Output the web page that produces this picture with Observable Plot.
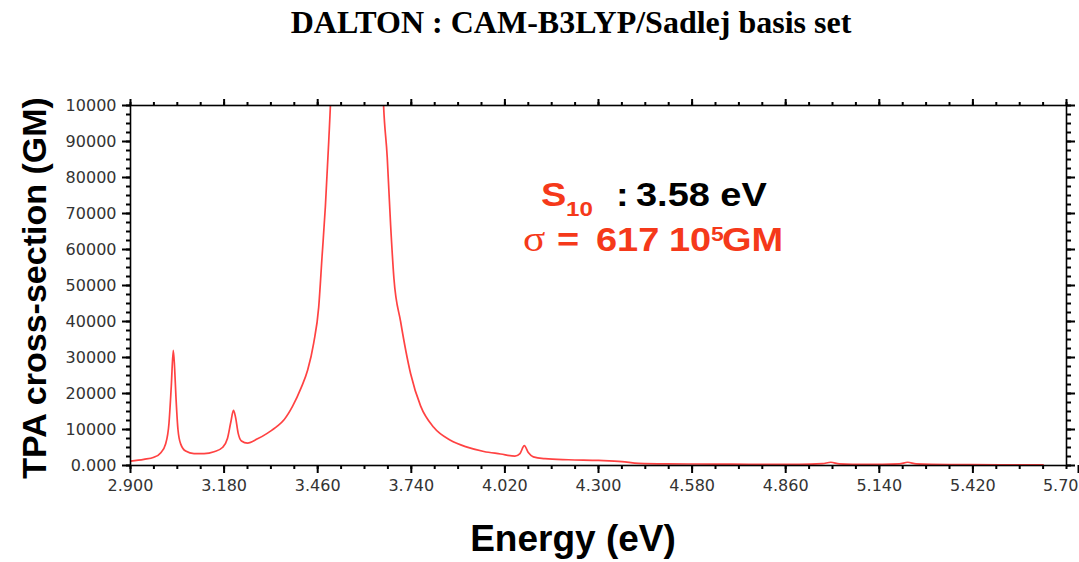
<!DOCTYPE html>
<html>
<head>
<meta charset="utf-8">
<script src="https://cdn.jsdelivr.net/npm/d3@7"></script>
<script src="https://cdn.jsdelivr.net/npm/@observablehq/plot@0.6"></script>
<style>
  html, body { margin: 0; padding: 0; background: #fff; }
  #wrap { width: 1079px; height: 562px; position: relative; overflow: hidden; }
  #title { height: 45px; line-height: 45px; font-family: "Liberation Serif", "Times New Roman", serif; font-weight: bold; font-size: 32px; color: #000; text-align: center; padding-left: 63px; white-space: nowrap; }
  svg { display: block; }
</style>
</head>
<body>
<div id="wrap">
  <div id="title"></div>
  <div id="chart"></div>
</div>
<script>
// ---- data ----
const energies = [2.900, 2.940, 2.970, 2.990, 3.005, 3.015, 3.022, 3.028, 3.032, 3.036, 3.042, 3.050, 3.065, 3.090, 3.120, 3.150, 3.175, 3.190, 3.200, 3.208, 3.214, 3.222, 3.232, 3.250, 3.280, 3.310, 3.340, 3.360, 3.385, 3.410, 3.430, 3.448, 3.463, 3.473, 3.483, 3.493, 3.500, 3.540, 3.580, 3.620, 3.655, 3.668, 3.678, 3.688, 3.708, 3.738, 3.768, 3.807, 3.857, 3.907, 3.957, 4.007, 4.050, 4.065, 4.078, 4.090, 4.105, 4.140, 4.210, 4.300, 4.370, 4.420, 4.500, 4.650, 4.750, 4.900, 4.970, 4.995, 5.020, 5.100, 5.200, 5.225, 5.250, 5.350, 5.500, 5.630];
const tpa = [1200, 1700, 2300, 3500, 6000, 11600, 22000, 32000, 27000, 19000, 10000, 6000, 4000, 3300, 3300, 3800, 5000, 7500, 12000, 15300, 13500, 9000, 6800, 6200, 7400, 9000, 11000, 12800, 16500, 21500, 26500, 34000, 44000, 58000, 72000, 90000, 105000, 400000, 61700000, 400000, 105000, 85600, 67000, 52000, 40000, 25500, 16500, 10600, 7000, 5100, 3900, 3200, 2600, 3300, 5500, 3600, 2400, 1900, 1600, 1400, 1100, 600, 450, 400, 350, 300, 500, 900, 450, 300, 450, 900, 450, 250, 200, 180];

const xTicks = [2.90, 3.18, 3.46, 3.74, 4.02, 4.30, 4.58, 4.86, 5.14, 5.42, 5.70];
const xTickLabels = ["2.900", "3.180", "3.460", "3.740", "4.020", "4.300", "4.580", "4.860", "5.140", "5.420", "5.70"];
const yTicks = [0, 10000, 20000, 30000, 40000, 50000, 60000, 70000, 80000, 90000, 100000];
const yTickLabels = ["0.000", "10000", "20000", "30000", "40000", "50000", "60000", "70000", "80000", "90000", "10000"];

const title = "DALTON : CAM-B3LYP/Sadlej basis set";
const xLabel = "Energy (eV)";
const yLabel = "TPA cross-section (GM)";

const data = energies.map((e, i) => ({energy: e, tpa: tpa[i]}));
const xMinor = d3.range(0, 41).map(i => 2.9 + i * 0.07).filter(v => v <= 5.7001);
const yMinor = d3.range(0, 41).map(i => i * 2500);

const xFmt = v => xTickLabels[xTicks.findIndex(t => Math.abs(t - v) < 1e-9)];
const yFmt = v => yTickLabels[yTicks.indexOf(v)];
const blank = () => "";
const lastX = xTicks[xTicks.length - 1];
const mainX = xTicks.slice(0, -1);

const red = "#f5391a";
const curveColor = "#ff2d2d";

const plot = Plot.plot({
  width: 1079,
  height: 517,
  marginTop: 60,
  marginLeft: 130,
  marginRight: 13,
  marginBottom: 97,
  x: {domain: [2.9, 5.7], label: null},
  y: {domain: [0, 100000], label: null},
  style: {fontFamily: "'DejaVu Sans', sans-serif", fontSize: "16px", background: "white"},
  marks: [
    Plot.line(data, {x: "energy", y: "tpa", stroke: curveColor, strokeWidth: 1.7, strokeOpacity: 0.9, curve: "monotone-x", clip: true}),
    Plot.frame({stroke: "black", strokeWidth: 1.6}),
    // bottom
    Plot.axisX(xMinor, {anchor: "bottom", tickSize: 4, strokeWidth: 2, tickFormat: blank, label: null}),
    Plot.axisX(mainX, {anchor: "bottom", tickSize: 8, strokeWidth: 2, tickPadding: 6, tickFormat: xFmt, fill: "#333", label: null}),
    Plot.axisX([lastX], {anchor: "bottom", tickSize: 8, strokeWidth: 2, tickPadding: 6, tickFormat: xFmt, fill: "#333", textAnchor: "end", dx: 12, label: null}),
    // top
    Plot.axisX(xMinor, {anchor: "top", tickSize: 4, strokeWidth: 2, tickFormat: blank, label: null}),
    Plot.axisX(xTicks, {anchor: "top", tickSize: 7, strokeWidth: 2, tickFormat: blank, label: null}),
    // left
    Plot.axisY(yMinor, {anchor: "left", tickSize: 4, strokeWidth: 2, tickFormat: blank, label: null}),
    Plot.axisY(yTicks, {anchor: "left", tickSize: 8, strokeWidth: 2, tickPadding: 6, tickFormat: yFmt, fill: "#333", label: null}),
    // right
    Plot.axisY(yMinor, {anchor: "right", tickSize: 4, strokeWidth: 2, tickFormat: blank, label: null}),
    Plot.axisY(yTicks, {anchor: "right", tickSize: 8, strokeWidth: 2, tickFormat: blank, label: null})
  ]
});

document.getElementById("chart").appendChild(plot);
document.getElementById("title").textContent = title;

const svg = d3.select(plot);
const sans = "'Liberation Sans', Arial, sans-serif";

// axis titles
svg.append("text")
  .attr("x", 573).attr("y", 506)
  .attr("text-anchor", "middle")
  .attr("font-family", sans).attr("font-weight", "bold").attr("font-size", 37)
  .attr("fill", "#000")
  .text(xLabel);

svg.append("text")
  .attr("transform", "translate(46,243) rotate(-90)")
  .attr("text-anchor", "middle")
  .attr("font-family", sans).attr("font-weight", "bold").attr("font-size", 34)
  .attr("fill", "#000")
  .text(yLabel);

// annotation pieces (slightly wide glyphs, as in the reference)
function piece(x, y, str, opts = {}) {
  svg.append("text")
    .attr("transform", `translate(${x},${y}) scale(1.15,1)`)
    .attr("text-anchor", "start")
    .attr("font-family", opts.family || sans)
    .attr("font-weight", opts.weight || "bold")
    .attr("font-size", opts.size || 33)
    .attr("fill", opts.fill || red)
    .text(str);
}
// line 1
piece(541, 161, "S");
piece(566, 171, "10", {size: 21});
piece(616, 161, ":", {fill: "#000"});
piece(636, 161, "3.58 eV", {fill: "#000"});
// line 2
piece(523, 206, "σ", {family: "'Liberation Serif', serif", weight: "normal", size: 36});
piece(557, 206, "=");
piece(596, 206, "617");
piece(669, 206, "10");
piece(711, 196, "5", {size: 20});
piece(722, 206, "GM");
</script>
</body>
</html>
